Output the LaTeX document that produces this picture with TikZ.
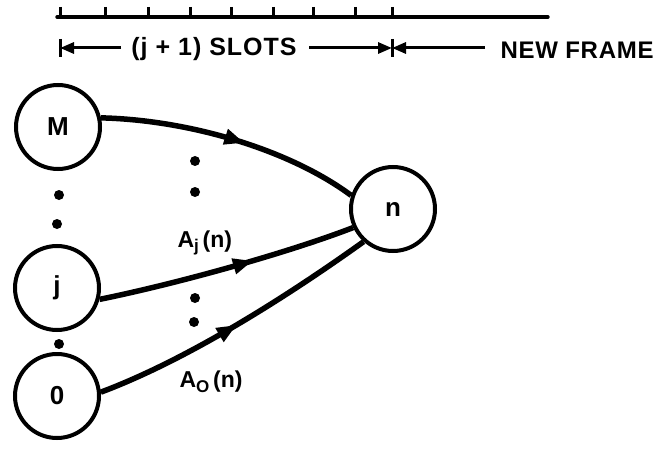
\documentclass[tikz,border=0pt]{standalone}
\usepackage{fontspec}
\setmainfont{Liberation Sans}
\usetikzlibrary{arrows.meta,decorations.markings}
\begin{document}
\begin{tikzpicture}[x=1pt,y=-1pt,
  lbl/.style={font=\fontsize{25}{27}\selectfont\bfseries\addfontfeatures{LetterSpace=4}},
  framelbl/.style={font=\fontsize{24}{26}\selectfont\bfseries\addfontfeatures{LetterSpace=3}},
  sublbl/.style={font=\fontsize{23}{25}\selectfont\bfseries},
  state/.style={circle,draw,line width=4pt,minimum size=84pt,inner sep=0pt,font=\fontsize{26}{28}\selectfont\bfseries},
  edge/.style={line width=5.5pt,postaction={decorate},
    decoration={markings,mark=at position #1 with {\arrow{Triangle[length=20pt,width=15pt]}}}},
  edge/.default=0.6,
  ruler/.style={line width=3.4pt,line cap=round},
  dimarrow/.style={line width=3pt,-{Triangle[length=14pt,width=11pt]}},
  dotmark/.style={circle,fill,inner sep=0pt,minimum size=10pt}
]
\useasboundingbox (0,0) rectangle (663,449);
% ruler
\draw[ruler] (57,17) -- (548,17);
\foreach \x in {60,105,148,190,231,273,313,355,392}
  \draw[line width=3pt] (\x,7) -- (\x,17);
% dimension row
\node[lbl] (slots) at (214,49) {(j + 1) SLOTS};
\node[framelbl,anchor=west] (frame) at (497,50) {NEW FRAME};
\coordinate (b1) at (60,48);
\coordinate (b2) at (392,48);
\coordinate (s1) at (121,48);
\coordinate (s2) at (309,48);
\coordinate (f1) at (485,48);
\draw[line width=3pt] (60,39) -- (60,57);
\draw[line width=3pt] (392,39) -- (392,57);
\draw[dimarrow] (s1) -- (b1);
\draw[dimarrow] (s2) -- (b2);
\draw[dimarrow] (f1) -- (b2);
% states
\node[state] (M) at (58,127) {M};
\node[state] (j) at (57,288) {j};
\node[state] (o) at (57,396) {0};
\node[state] (n) at (393,209) {n};
% vertical dots
\node[dotmark] (d1) at (59,195) {};
\node[dotmark] (d2) at (57,224) {};
\node[dotmark] (d3) at (59,344) {};
\node[dotmark] (d4) at (195,161) {};
\node[dotmark] (d5) at (195,192) {};
\node[dotmark] (d6) at (195,298) {};
\node[dotmark] (d7) at (194,322) {};
% labels
\node[sublbl,anchor=west] (aj) at (174,243) {A\raisebox{-0.35ex}{\fontsize{17}{19}\selectfont j}\,(n)};
\node[sublbl,anchor=west] (ao) at (176,382) {A\raisebox{-0.4ex}{\fontsize{17}{19}\selectfont O}\,(n)};
% edges
\draw[edge=0.55] (M.12) .. controls (190,120) and (290,150) .. (n.162);
\draw[edge=0.6] (j.-15) .. controls (180,283) and (290,252) .. (n.205);
\draw[edge=0.5] (o.5) .. controls (200,355) and (310,280) .. (n.228);
\end{tikzpicture}
\end{document}
